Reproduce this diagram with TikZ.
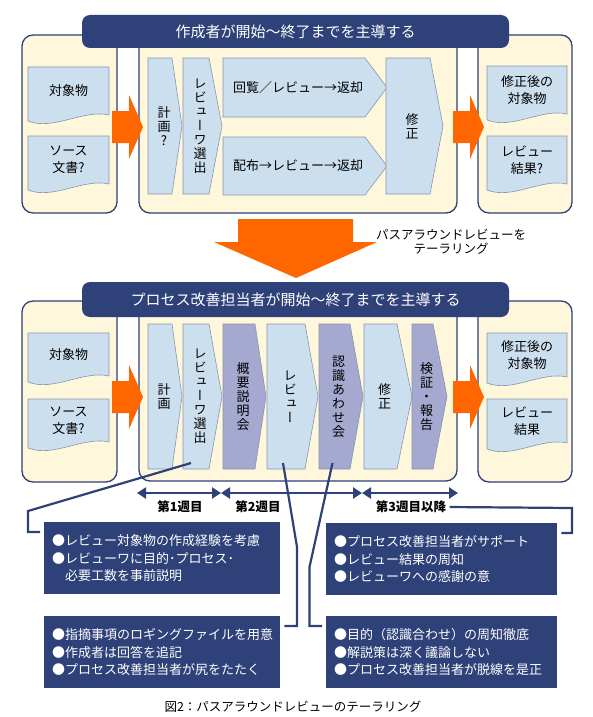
\documentclass[tikz,border=0pt]{standalone}
\usepackage{fontspec}
\setmainfont{Noto Sans CJK JP}
\newfontfamily\tatefont[RawFeature=+vert]{Noto Sans CJK JP}
\usetikzlibrary{arrows.meta, calc}

\definecolor{navy}{HTML}{2E4178}
\definecolor{cream}{HTML}{FFF7DC}
\definecolor{paleblue}{HTML}{CCDFEE}
\definecolor{lilac}{HTML}{A5A8CF}
\definecolor{edge}{HTML}{8796AE}
\definecolor{orng}{HTML}{FF6600}

% chevron: name, x0, x base, x tip, y top, y bottom, fill, text style, text
\newcommand{\chev}[9]{%
  \draw[chevline, fill=#7] (#2,#5) -- (#3,#5) -- (#4,{(#5+#6)/2}) -- (#3,#6) -- (#2,#6) -- cycle;
  \coordinate (#1-b) at ({(#2+#3)/2},#6);
  \node[#8] (#1) at ({(#2+#3)/2+4},{(#5+#6)/2}) {#9};}

% document with wavy foot: name, x0, x1, y top, y foot, text
\newcommand{\docu}[6]{%
  \draw[docline] (#2,#4) -- (#3,#4) -- (#3,{#5-10}) .. controls ({#3-25},{#5-16}) and ({#2+25},{#5+6}) .. (#2,{#5-4}) -- cycle;
  \node[doctxt] (#1) at ({(#2+#3)/2},{(#4+#5-10)/2}) {#6};}

% fat orange arrow: x start, y middle
\newcommand{\fatarrow}[2]{%
  \fill[orng] (#1,{#2-16}) -- ({#1+17},{#2-16}) -- ({#1+17},{#2-32}) -- ({#1+31},#2)
    -- ({#1+17},{#2+32}) -- ({#1+17},{#2+16}) -- (#1,{#2+16}) -- cycle;}

\begin{document}
\begin{tikzpicture}[x=1pt, y=-1pt,
    panel/.style = {draw=navy, line width=1.3pt, fill=cream, rounded corners=11pt},
    titlebar/.style = {fill=navy, text=white, rounded corners=8pt, minimum width=427pt,
      minimum height=33pt, font=\fontsize{15}{18}\selectfont},
    chevline/.style = {draw=edge, line width=0.6pt},
    tate/.style = {align=center, font=\tatefont\fontsize{13}{14}\selectfont},
    yoko/.style = {font=\fontsize{13}{15}\selectfont},
    docline/.style = {draw=edge, line width=0.6pt, fill=paleblue},
    doctxt/.style = {align=center, font=\fontsize{13}{17}\selectfont},
    note/.style = {fill=navy, text=white, align=left, anchor=north west, inner xsep=8pt,
      minimum height=72pt, font=\fontsize{13}{17.5}\selectfont},
    lead/.style = {draw=navy, line width=2.2pt, shorten >=4pt},
    span/.style = {draw=navy, line width=2.4pt,
      arrows={Triangle[length=9pt,width=11pt]-Triangle[length=9pt,width=11pt]}},
    wk/.style = {font=\bfseries\fontsize{12.5}{15}\selectfont}
  ]
  \useasboundingbox[fill=white] (0,0) rectangle (593,717);

  % --- before tailoring
  \draw[panel] (22,35) rectangle (117,213);
  \draw[panel] (139,35) rectangle (457,213);
  \draw[panel] (478,35) rectangle (572,213);
  \node[titlebar] (lead1) at (295.5,31.5) {作成者が開始～終了までを主導する};

  \docu{obj1}{28}{109}{67}{125}{対象物}
  \docu{src1}{28}{109}{136}{194}{ソース\\文書?}
  \docu{after1}{487}{567}{66}{124}{修正後の\\対象物}
  \docu{res1}{487}{567}{136}{194}{レビュー\\結果?}

  \chev{plan1}{148}{172}{182}{58}{194}{paleblue}{tate}{計\\画\\?}
  \chev{pick1}{183}{209}{222}{58}{194}{paleblue}{tate}{レ\\ビ\\ュ\\ー\\ワ\\選\\出}
  \chev{circ}{223}{365}{387}{58}{117}{paleblue}{yoko}{回覧／レビュー→返却}
  \chev{dist}{223}{365}{387}{137}{195}{paleblue}{yoko}{配布→レビュー→返却}
  \chev{fix1}{386}{430}{443}{58}{194}{paleblue}{tate}{修\\正}

  \fatarrow{112}{127}
  \fatarrow{453}{127}

  % tailoring arrow
  \fill[orng] (238,219) -- (353,219) -- (353,242) -- (377,242) -- (296,278)
    -- (214,242) -- (238,242) -- cycle;
  \node[align=center, font=\fontsize{12.5}{14}\selectfont] (tailor) at (451,242)
    {パスアラウンドレビューを\\テーラリング};

  % --- after tailoring
  \draw[panel] (22,301) rectangle (117,482);
  \draw[panel] (139,301) rectangle (457,481);
  \draw[panel] (478,301) rectangle (572,482);
  \node[titlebar, minimum height=35pt] (lead2) at (295.5,299.5) {プロセス改善担当者が開始～終了までを主導する};

  \docu{obj2}{28}{109}{333}{386}{対象物}
  \docu{src2}{28}{109}{399}{452}{ソース\\文書?}
  \docu{after2}{487}{567}{333}{387}{修正後の\\対象物}
  \docu{res2}{487}{567}{399}{453}{レビュー\\結果}

  \chev{plan2}{148}{172}{182}{324}{469}{paleblue}{tate}{計\\画}
  \chev{pick2}{183}{209}{222}{324}{469}{paleblue}{tate}{レ\\ビ\\ュ\\ー\\ワ\\選\\出}
  \chev{brief}{223}{255}{266}{324}{469}{lilac}{tate}{概\\要\\説\\明\\会}
  \chev{rev}{267}{305}{318}{324}{469}{paleblue}{tate}{レ\\ビ\\ュ\\ー}
  \chev{agree}{319}{350}{363}{324}{469}{lilac}{tate}{認\\識\\あ\\わ\\せ\\会}
  \chev{fix2}{364}{397}{412}{324}{469}{paleblue}{tate}{修\\正}
  \chev{check}{412}{433}{447}{324}{469}{lilac}{tate}{検\\証\\・\\報\\告}

  \fatarrow{112}{397}
  \fatarrow{453}{397}

  % weeks
  \coordinate (t0) at (137,493);
  \coordinate (t1) at (221,493);
  \coordinate (t2) at (362,493);
  \coordinate (t3) at (458,493);
  \draw[span] (t0) -- (t1);
  \draw[span] (t1) -- (t2);
  \draw[span] (t2) -- (t3);
  \node[wk] (wk1) at (180,507) {第1週目};
  \node[wk] (wk2) at (258,507) {第2週目};
  \node[wk] (wk3) at (411,507) {第3週目以降};

  % notes
  \node[note, text width=220pt] (noteA) at (44,522)
    {●レビュー対象物の作成経験を考慮\\●レビューワに目的･プロセス･\\\hspace*{1em}必要工数を事前説明};
  \node[note, text width=220pt] (noteB) at (44,616)
    {●指摘事項のロギングファイルを用意\\●作成者は回答を追記\\●プロセス改善担当者が尻をたたく};
  \node[note, text width=215pt] (noteC) at (326,523)
    {●プロセス改善担当者がサポート\\●レビュー結果の周知\\●レビューワへの感謝の意};
  \node[note, text width=215pt] (noteD) at (326,616)
    {●目的（認識合わせ）の周知徹底\\●解説策は深く議論しない\\●プロセス改善担当者が脱線を是正};

  \draw[lead] ([shift={(-5,-6)}]pick2-b) -- ++(-163,48) |- ([yshift=-10pt]noteA.north west);
  \draw[lead] ([shift={(-3,-6)}]rev-b) -- ++(14,84) |- ([yshift=-10pt]noteB.north east);
  \draw[lead] ([shift={(-2,-6)}]agree-b) -- ++(-23,104) |- ([yshift=-10pt]noteD.north west);
  \draw[lead] (wk3.east) -- (572,508) |- ([yshift=-10pt]noteC.north east);

  \node[font=\fontsize{12.5}{15}\selectfont] (cap) at (293,707)
    {図2：パスアラウンドレビューのテーラリング};
\end{tikzpicture}
\end{document}
